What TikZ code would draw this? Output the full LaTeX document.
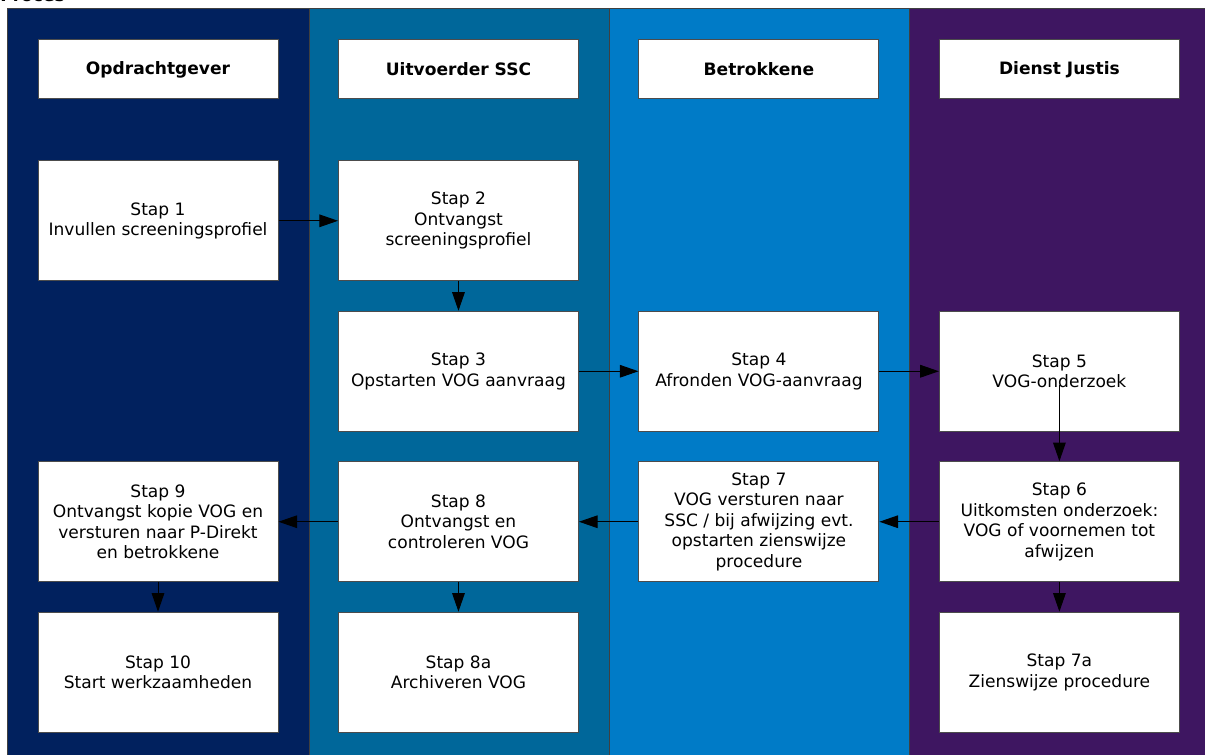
\documentclass[tikz,border=0pt]{standalone}
\usepackage{fontspec}
\setmainfont{DejaVu Sans}
\usepackage{xcolor}
\usetikzlibrary{arrows.meta,positioning}

\definecolor{laneopdr}{RGB}{1,33,94}
\definecolor{laneuitv}{RGB}{0,103,154}
\definecolor{lanebetr}{RGB}{0,123,199}
\definecolor{lanejust}{RGB}{62,22,97}

\begin{document}
\begin{tikzpicture}[
  x=0.75pt, y=-0.75pt,
  node distance=22.1pt and 44.6pt,
  lane/.style={draw=black!75, line width=0.75pt},
  header/.style={draw=black!70, line width=0.75pt, fill=white, align=center, minimum width=180pt, minimum height=44.25pt, inner sep=2pt, font=\fontsize{12.8}{15.4}\selectfont\bfseries},
  stapbox/.style={draw=black!70, line width=0.75pt, fill=white, align=center, minimum width=180pt, minimum height=90pt, inner sep=2pt, font=\fontsize{12.8}{15.4}\selectfont},
  arrow/.style={-{Triangle[length=14pt, width=9.5pt]}, line width=0.75pt, black}
]
\useasboundingbox (0,0) rectangle (1205,755);
\node[anchor=base west, font=\fontsize{12.8}{15.4}\selectfont\bfseries, inner sep=0pt] (title) at (0,2) {Proces};
\filldraw[lane, fill=laneopdr] (7,9) rectangle (309,765);
\filldraw[lane, fill=laneuitv] (309,9) rectangle (609,765);
\filldraw[lane, fill=lanebetr] (609,9) rectangle (909,765);
\filldraw[lane, fill=lanejust] (909,9) rectangle (1215,765);
\node[header] (opdrachtgever) at (158,69.5) {Opdrachtgever};
\node[header, right=of opdrachtgever] (uitvoerder) {Uitvoerder SSC};
\node[header, right=of uitvoerder] (betrokkene) {Betrokkene};
\node[header, right=of betrokkene] (justis) {Dienst Justis};
\node[stapbox, below=45.6pt of opdrachtgever] (stap1) {Stap 1\\Invullen screeningsprofiel};
\node[stapbox, right=of stap1] (stap2) {Stap 2\\Ontvangst\\screeningsprofiel};
\node[stapbox, below=of stap2] (stap3) {Stap 3\\Opstarten VOG aanvraag};
\node[stapbox, right=of stap3] (stap4) {Stap 4\\Afronden VOG-aanvraag};
\node[stapbox, right=of stap4] (stap5) {Stap 5\\VOG-onderzoek};
\node[stapbox, below=of stap5] (stap6) {Stap 6\\Uitkomsten onderzoek:\\VOG of voornemen tot\\afwijzen};
\node[stapbox, left=of stap6] (stap7) {Stap 7\\VOG versturen naar\\SSC / bij afwijzing evt.\\opstarten zienswijze\\procedure};
\node[stapbox, left=of stap7] (stap8) {Stap 8\\Ontvangst en\\controleren VOG};
\node[stapbox, left=of stap8] (stap9) {Stap 9\\Ontvangst kopie VOG en\\versturen naar P-Direkt\\en betrokkene};
\node[stapbox, below=of stap9] (stap10) {Stap 10\\Start werkzaamheden};
\node[stapbox, below=of stap8] (stap8a) {Stap 8a\\Archiveren VOG};
\node[stapbox, below=of stap6] (stap7a) {Stap 7a\\Zienswijze procedure};
\coordinate (stap5out) at ([yshift=-10.5pt]stap5.center);
\draw[arrow] (stap1) -- (stap2);
\draw[arrow] (stap2) -- (stap3);
\draw[arrow] (stap3) -- (stap4);
\draw[arrow] (stap4) -- (stap5);
\draw[arrow] (stap5out) -- (stap6);
\draw[arrow] (stap6) -- (stap7);
\draw[arrow] (stap6) -- (stap7a);
\draw[arrow] (stap7) -- (stap8);
\draw[arrow] (stap8) -- (stap9);
\draw[arrow] (stap8) -- (stap8a);
\draw[arrow] (stap9) -- (stap10);
\end{tikzpicture}
\end{document}
